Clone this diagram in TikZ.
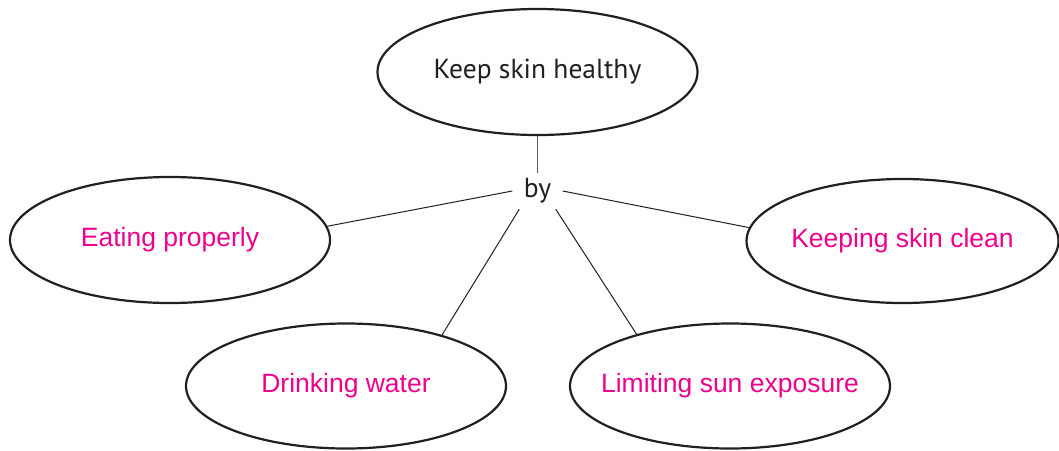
\documentclass[tikz,border=0pt]{standalone}
\usepackage{fontspec}
\setmainfont{Liberation Sans}
\newfontfamily\humfont{PT Sans}
\usetikzlibrary{shapes.geometric}
\definecolor{inkdark}{HTML}{231F20}
\definecolor{pinktext}{HTML}{EC008C}
\newcommand{\zw}[1]{\makebox[0pt]{#1}}
\tikzset{
  oval/.style={ellipse, draw=inkdark, line width=2.2pt, inner sep=0pt,
    minimum width=320pt, minimum height=126pt},
  pinklabel/.style={text=pinktext, font=\fontsize{26.5}{30}\selectfont},
  darklabel/.style={text=inkdark, font=\humfont\fontsize{27.5}{30}\selectfont},
  link/.style={draw=inkdark, line width=1pt},
  stem/.style={draw=inkdark!75, line width=1.5pt}
}
\begin{document}
\begin{tikzpicture}[x=1pt,y=-1pt]
\useasboundingbox (0,0) rectangle (1059,450);
\node[oval, darklabel] (top) at (537.5,72) {\zw{Keep skin healthy}};
\node[oval, pinklabel] (eat) at (170,240) {\zw{Eating properly}};
\node[oval, pinklabel, minimum width=312pt, minimum height=124pt] (clean) at (902.5,241) {\zw{Keeping skin clean}};
\node[oval, pinklabel, minimum height=125pt] (drink) at (346,386) {\zw{Drinking water}};
\node[oval, pinklabel, minimum height=125pt] (limit) at (730,386) {\zw{Limiting sun exposure}};
\node[darklabel, inner sep=0pt, minimum width=50pt, minimum height=36pt] (by) at (537.5,191) {\zw{by}};
\draw[stem] (top.south) -- (by.north);
\draw[link] (by.west) -- (eat.5.4);
\draw[link] (by.east) -- (clean.175.6);
\draw[link] (by.225) -- (drink.28.7);
\draw[link] (by.-45) -- (limit.151.5);
\end{tikzpicture}
\end{document}
